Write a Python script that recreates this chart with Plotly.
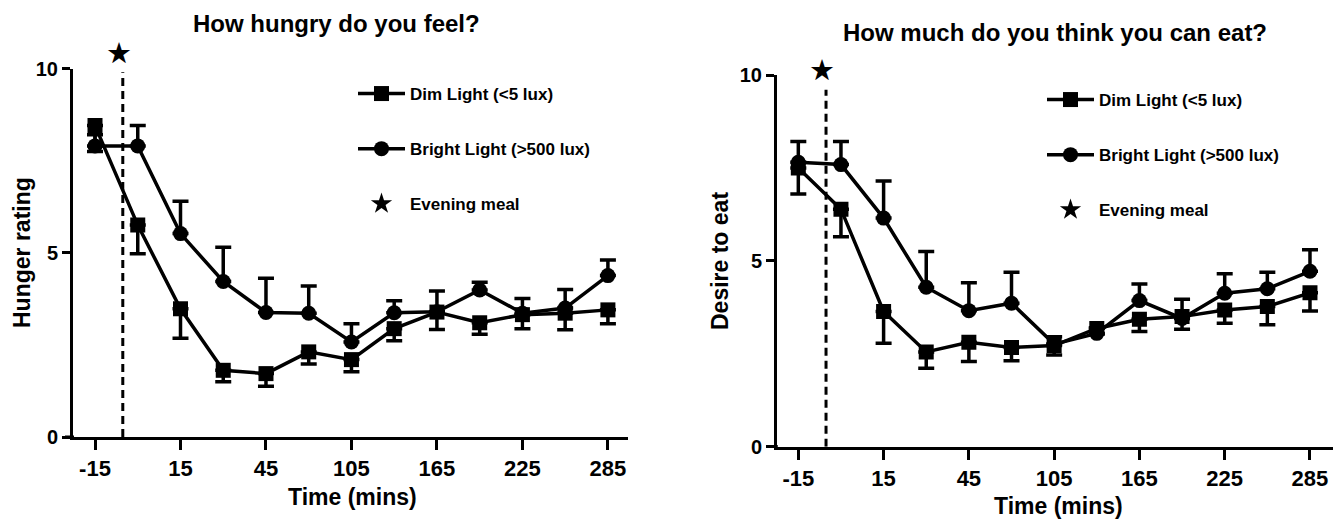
import plotly.graph_objects as go

# ---------------- data ----------------
time_labels = ["-15", "0", "15", "30", "45", "75", "105", "135", "165", "195", "225", "255", "285"]
shown_labels = ["-15", "15", "45", "105", "165", "225", "285"]
meal_index = 0.65  # evening meal position (in time-point index units)

dim_hunger = [8.45, 5.75, 3.48, 1.81, 1.72, 2.31, 2.10, 2.94, 3.39, 3.10, 3.32, 3.36, 3.45]
dim_hunger_err = [0.70, 0.78, 0.80, 0.31, 0.34, 0.33, 0.33, 0.33, 0.47, 0.31, 0.38, 0.45, 0.38]
bright_hunger = [7.90, 7.90, 5.52, 4.22, 3.38, 3.36, 2.58, 3.37, 3.40, 3.99, 3.36, 3.50, 4.38]
bright_hunger_err = [0.30, 0.55, 0.88, 0.93, 0.93, 0.74, 0.49, 0.33, 0.56, 0.21, 0.40, 0.50, 0.42]

dim_desire = [7.50, 6.39, 3.64, 2.55, 2.81, 2.67, 2.72, 3.18, 3.43, 3.50, 3.68, 3.77, 4.14]
dim_desire_err = [0.70, 0.74, 0.86, 0.44, 0.52, 0.36, 0.25, 0.15, 0.33, 0.34, 0.36, 0.49, 0.49]
bright_desire = [7.65, 7.59, 6.15, 4.29, 3.66, 3.86, 2.76, 3.05, 3.93, 3.45, 4.13, 4.25, 4.72]
bright_desire_err = [0.56, 0.62, 1.00, 0.96, 0.75, 0.83, 0.20, 0.15, 0.45, 0.52, 0.52, 0.44, 0.58]

titles = ["How hungry do you feel?", "How much do you think you can eat?"]
y_titles = ["Hunger rating", "Desire to eat"]
x_title = "Time (mins)"
series_names = ["Dim Light (<5 lux)", "Bright Light (>500 lux)", "Evening meal"]

# ---------------- figure ----------------
# the page body adds an 8px margin, so the figure is sized to fit the window
OFF = 8
W, H = 1341 - OFF, 522 - OFF
FONT = "Liberation Sans, Arial, sans-serif"
idx = list(range(len(time_labels)))
tick_idx = [time_labels.index(t) for t in shown_labels]
Y_RANGE = [0, 10]


def px_x(v):
    return (v - OFF) / W


def px_y(v):
    return 1 - (v - OFF) / H


fig = go.Figure()

panels = [
    dict(dim=dim_hunger, dim_err=dim_hunger_err, br=bright_hunger, br_err=bright_hunger_err,
         xa="x", ya="y", legend="legend", star_y=10.43, dash_top=9.9,
         ydom=[px_y(437), px_y(68.5)]),
    dict(dim=dim_desire, dim_err=dim_desire_err, br=bright_desire, br_err=bright_desire_err,
         xa="x2", ya="y2", legend="legend2", star_y=10.13, dash_top=9.6,
         ydom=[px_y(446.7), px_y(75)]),
]

annotations = []
for p in panels:
    # dashed meal line
    fig.add_trace(go.Scatter(
        x=[meal_index, meal_index], y=[0, p["dash_top"]], mode="lines",
        line=dict(color="black", width=3, dash="8px,5px"),
        xaxis=p["xa"], yaxis=p["ya"], showlegend=False, hoverinfo="skip"))
    fig.add_trace(go.Scatter(
        x=idx, y=p["dim"], mode="lines+markers", name=series_names[0],
        line=dict(color="black", width=3.5),
        marker=dict(symbol="square", size=15, color="black"),
        error_y=dict(type="data", symmetric=False, array=[0] * len(idx), arrayminus=p["dim_err"],
                     color="black", thickness=3.5, width=8),
        xaxis=p["xa"], yaxis=p["ya"], legend=p["legend"], legendgroup="a" + p["legend"]))
    fig.add_trace(go.Scatter(
        x=idx, y=p["br"], mode="lines+markers", name=series_names[1],
        line=dict(color="black", width=3.5),
        marker=dict(symbol="circle", size=15, color="black"),
        error_y=dict(type="data", symmetric=False, array=p["br_err"], arrayminus=[0] * len(idx),
                     color="black", thickness=3.5, width=8),
        xaxis=p["xa"], yaxis=p["ya"], legend=p["legend"], legendgroup="b" + p["legend"]))
    # legend entry for the meal star
    fig.add_trace(go.Scatter(
        x=[None], y=[None], mode="markers", name=series_names[2],
        marker=dict(symbol="star", size=18, color="black"),
        xaxis=p["xa"], yaxis=p["ya"], legend=p["legend"], legendgroup="c" + p["legend"]))
    # star marking the meal, just above the top of the y range
    d0, d1 = p["ydom"]
    star_paper = d0 + (p["star_y"] - Y_RANGE[0]) / (Y_RANGE[1] - Y_RANGE[0]) * (d1 - d0)
    annotations.append(dict(text="★", x=meal_index - 0.1, y=star_paper,
                            xref=p["xa"], yref="paper", showarrow=False,
                            xanchor="center", yanchor="middle",
                            font=dict(family="DejaVu Sans", size=29, color="black")))

axis_common = dict(showline=True, linewidth=3, linecolor="black", ticks="outside",
                   tickwidth=3, tickcolor="black", showgrid=False, zeroline=False,
                   mirror=False, automargin=False)

xfont = dict(family=FONT, size=22, color="black", weight="bold")
yfont = dict(family=FONT, size=20, color="black", weight="bold")
lfont = dict(family=FONT, size=17, color="black", weight="bold")

fig.update_layout(
    width=W, height=H,
    margin=dict(l=0, r=0, t=0, b=0, pad=0, autoexpand=False),
    paper_bgcolor="white", plot_bgcolor="white",
    font=dict(family=FONT, color="black"),
    xaxis=dict(domain=[px_x(73), px_x(628)], range=[-0.515, 12.47], anchor="y",
               tickmode="array", tickvals=tick_idx, ticktext=shown_labels,
               ticklen=10, tickfont=xfont, **axis_common),
    yaxis=dict(domain=panels[0]["ydom"], range=Y_RANGE, anchor="x",
               tickmode="array", tickvals=[0, 5, 10], ticklen=8, tickfont=yfont, **axis_common),
    xaxis2=dict(domain=[px_x(777), px_x(1333)], range=[-0.5, 12.54], anchor="y2",
                tickmode="array", tickvals=tick_idx, ticktext=shown_labels,
                ticklen=10, tickfont=xfont, **axis_common),
    yaxis2=dict(domain=panels[1]["ydom"], range=Y_RANGE, anchor="x2",
                tickmode="array", tickvals=[0, 5, 10], ticklen=8, tickfont=yfont, **axis_common),
    legend=dict(x=px_x(353), y=px_y(76), xanchor="left", yanchor="top", itemwidth=47,
                bgcolor="rgba(0,0,0,0)", traceorder="grouped", tracegroupgap=30, font=lfont),
    legend2=dict(x=px_x(1042), y=px_y(82), xanchor="left", yanchor="top", itemwidth=47,
                 bgcolor="rgba(0,0,0,0)", traceorder="grouped", tracegroupgap=30, font=lfont),
    showlegend=True,
)

# x-axis baseline extends slightly left of the y-axis (prism style)
shapes = [
    dict(type="line", xref="paper", yref="y", x0=px_x(65), x1=px_x(74), y0=0, y1=0,
         line=dict(color="black", width=3)),
    dict(type="line", xref="paper", yref="y2", x0=px_x(769), x1=px_x(778), y0=0, y1=0,
         line=dict(color="black", width=3)),
]

ann_font_title = dict(family=FONT, size=24, color="black", weight="bold")
ann_font_axis = dict(family=FONT, size=23, color="black", weight="bold")
text_anns = [
    dict(text=titles[0], x=px_x(336), y=px_y(23), font=ann_font_title),
    dict(text=titles[1], x=px_x(1055), y=px_y(32), font=ann_font_title),
    dict(text=x_title, x=px_x(352), y=px_y(497), font=ann_font_axis),
    dict(text=x_title, x=px_x(1058), y=px_y(506), font=ann_font_axis),
    dict(text=y_titles[0], x=px_x(22), y=px_y(253), font=ann_font_axis, textangle=-90),
    dict(text=y_titles[1], x=px_x(720), y=px_y(261), font=ann_font_axis, textangle=-90),
]
for a in text_anns:
    a.update(xref="paper", yref="paper", showarrow=False, xanchor="center", yanchor="middle")
fig.update_layout(annotations=annotations + text_anns, shapes=shapes)

fig.write_html("out.html")
